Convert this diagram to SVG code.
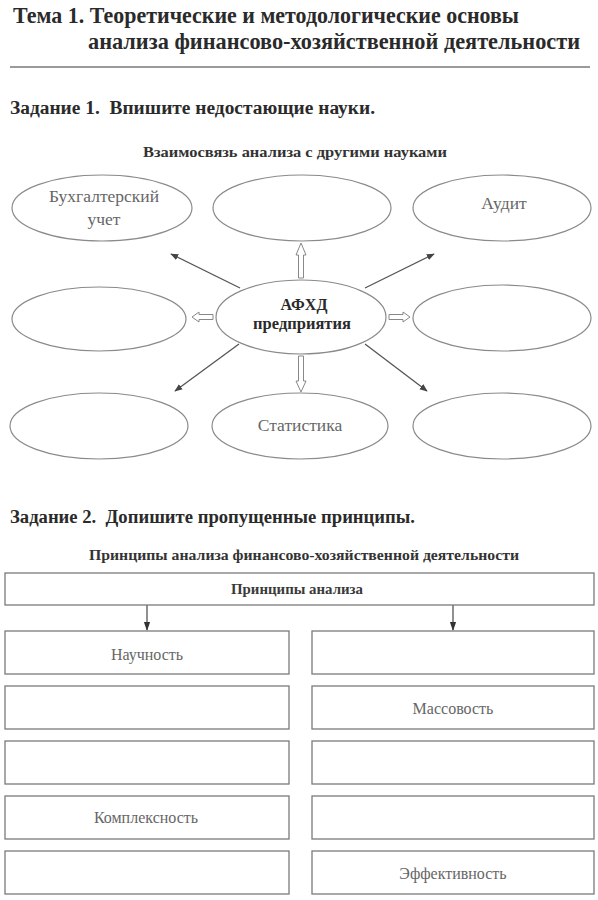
<svg xmlns="http://www.w3.org/2000/svg" width="598" height="900" viewBox="0 0 598 900">
<defs>
<marker id="ah" viewBox="0 0 10 10" refX="9" refY="5" markerWidth="8" markerHeight="8" orient="auto" markerUnits="userSpaceOnUse">
<path d="M0,1 L10,5 L0,9 Z" fill="#444"/>
</marker>
<marker id="ah2" viewBox="0 0 10 10" refX="9" refY="5" markerWidth="9" markerHeight="9" orient="auto" markerUnits="userSpaceOnUse">
<path d="M0,1.5 L10,5 L0,8.5 Z" fill="#333"/>
</marker>
</defs>
<style>
.h{font-family:"Liberation Serif",serif;font-weight:bold;fill:#2a2a2a}
.sub{font-family:"Liberation Serif",serif;font-weight:bold;fill:#333;font-size:14.5px}
.lbl{font-family:"Liberation Serif",serif;fill:#666;font-size:17.5px}
.blbl{font-family:"Liberation Serif",serif;fill:#666;font-size:16px}
.ell{fill:#fff;stroke:#8a8a8a;stroke-width:1.2}
.box{fill:#fff;stroke:#7a7a7a;stroke-width:1.3}
.ln{stroke:#555;stroke-width:1.3;fill:none}
.hol{fill:#fff;stroke:#888;stroke-width:1}
</style>
<rect width="598" height="900" fill="#fff"/>
<text class="h" x="13" y="23" font-size="23" textLength="506" lengthAdjust="spacingAndGlyphs">Тема 1. Теоретические и методологические основы</text>
<text class="h" x="88" y="49" font-size="23" textLength="492" lengthAdjust="spacingAndGlyphs">анализа финансово-хозяйственной деятельности</text>
<line x1="10" y1="67" x2="590" y2="67" stroke="#9a9a9a" stroke-width="2"/>
<text class="h" x="10" y="114" font-size="18.5" textLength="365" lengthAdjust="spacingAndGlyphs" xml:space="preserve">Задание 1.  Впишите недостающие науки.</text>
<text class="sub" x="295" y="157" text-anchor="middle" textLength="304" lengthAdjust="spacingAndGlyphs">Взаимосвязь анализа с другими науками</text>

<g id="n-buh"><ellipse class="ell" cx="102" cy="208" rx="90" ry="33"/><text class="lbl" x="104" y="202" text-anchor="middle">Бухгалтерский</text><text class="lbl" x="104" y="225" text-anchor="middle">учет</text></g>
<g id="n-topmid"><ellipse class="ell" cx="302" cy="208" rx="89" ry="33"/></g>
<g id="n-audit"><ellipse class="ell" cx="502" cy="208" rx="89" ry="33"/><text class="lbl" x="504" y="209" text-anchor="middle">Аудит</text></g>
<g id="n-midleft"><ellipse class="ell" cx="99" cy="319" rx="87" ry="32"/></g>
<g id="n-afhd"><ellipse class="ell" cx="301" cy="317" rx="85" ry="37"/><text class="h" x="304" y="310" font-size="16" text-anchor="middle" fill="#333">АФХД</text><text class="h" x="302" y="329" font-size="16.5" text-anchor="middle" fill="#333">предприятия</text></g>
<g id="n-midright"><ellipse class="ell" cx="502" cy="318" rx="89" ry="33"/></g>
<g id="n-botleft"><ellipse class="ell" cx="99" cy="426" rx="89" ry="33"/></g>
<g id="n-stat"><ellipse class="ell" cx="300" cy="426" rx="88" ry="33"/><text class="lbl" x="300" y="431" text-anchor="middle">Статистика</text></g>
<g id="n-botright"><ellipse class="ell" cx="502" cy="426" rx="89" ry="33"/></g>

<g id="connectors">
<line class="ln" x1="240" y1="288" x2="171" y2="254" marker-end="url(#ah)"/>
<line class="ln" x1="365" y1="288" x2="434" y2="254" marker-end="url(#ah)"/>
<line class="ln" x1="239" y1="344" x2="175" y2="391" marker-end="url(#ah)"/>
<line class="ln" x1="365" y1="344" x2="427" y2="391" marker-end="url(#ah)"/>
<path class="hol" d="M298.5,278 L298.5,255 L296,255 L301,243 L306,255 L303.5,255 L303.5,278 Z"/>
<path class="hol" d="M298.5,356 L298.5,381 L296,381 L301,392 L306,381 L303.5,381 L303.5,356 Z"/>
<path class="hol" d="M389,314.5 L403,314.5 L403,312 L410,317 L403,322 L403,319.5 L389,319.5 Z"/>
<path class="hol" d="M213,314.5 L199,314.5 L199,312 L192,317 L199,322 L199,319.5 L213,319.5 Z"/>
<line class="ln" x1="147" y1="605" x2="147" y2="630" marker-end="url(#ah2)"/>
<line class="ln" x1="453" y1="605" x2="453" y2="630" marker-end="url(#ah2)"/>
</g>

<text class="h" x="10" y="523" font-size="18.5" textLength="405" lengthAdjust="spacingAndGlyphs" xml:space="preserve">Задание 2.  Допишите пропущенные принципы.</text>
<text class="sub" x="89" y="560" textLength="430" lengthAdjust="spacingAndGlyphs">Принципы анализа финансово-хозяйственной деятельности</text>

<g id="b-top"><rect class="box" x="5" y="573" width="589" height="32"/><text x="297" y="594" font-family="Liberation Serif, serif" font-size="14.5" font-weight="bold" fill="#3a3a3a" text-anchor="middle" textLength="132" lengthAdjust="spacingAndGlyphs">Принципы анализа</text></g>
<g id="b-l1"><rect class="box" x="5" y="631" width="284" height="43"/><text class="blbl" x="147" y="660" text-anchor="middle">Научность</text></g>
<g id="b-r1"><rect class="box" x="312" y="631" width="282" height="43"/></g>
<g id="b-l2"><rect class="box" x="5" y="686" width="284" height="43"/></g>
<g id="b-r2"><rect class="box" x="312" y="686" width="282" height="43"/><text class="blbl" x="453" y="714" text-anchor="middle">Массовость</text></g>
<g id="b-l3"><rect class="box" x="5" y="741" width="284" height="43"/></g>
<g id="b-r3"><rect class="box" x="312" y="741" width="282" height="43"/></g>
<g id="b-l4"><rect class="box" x="5" y="796" width="284" height="43"/><text class="blbl" x="146" y="823" text-anchor="middle">Комплексность</text></g>
<g id="b-r4"><rect class="box" x="312" y="796" width="282" height="43"/></g>
<g id="b-l5"><rect class="box" x="5" y="851" width="284" height="43"/></g>
<g id="b-r5"><rect class="box" x="312" y="851" width="282" height="43"/><text class="blbl" x="453" y="879" text-anchor="middle">Эффективность</text></g>
</svg>
